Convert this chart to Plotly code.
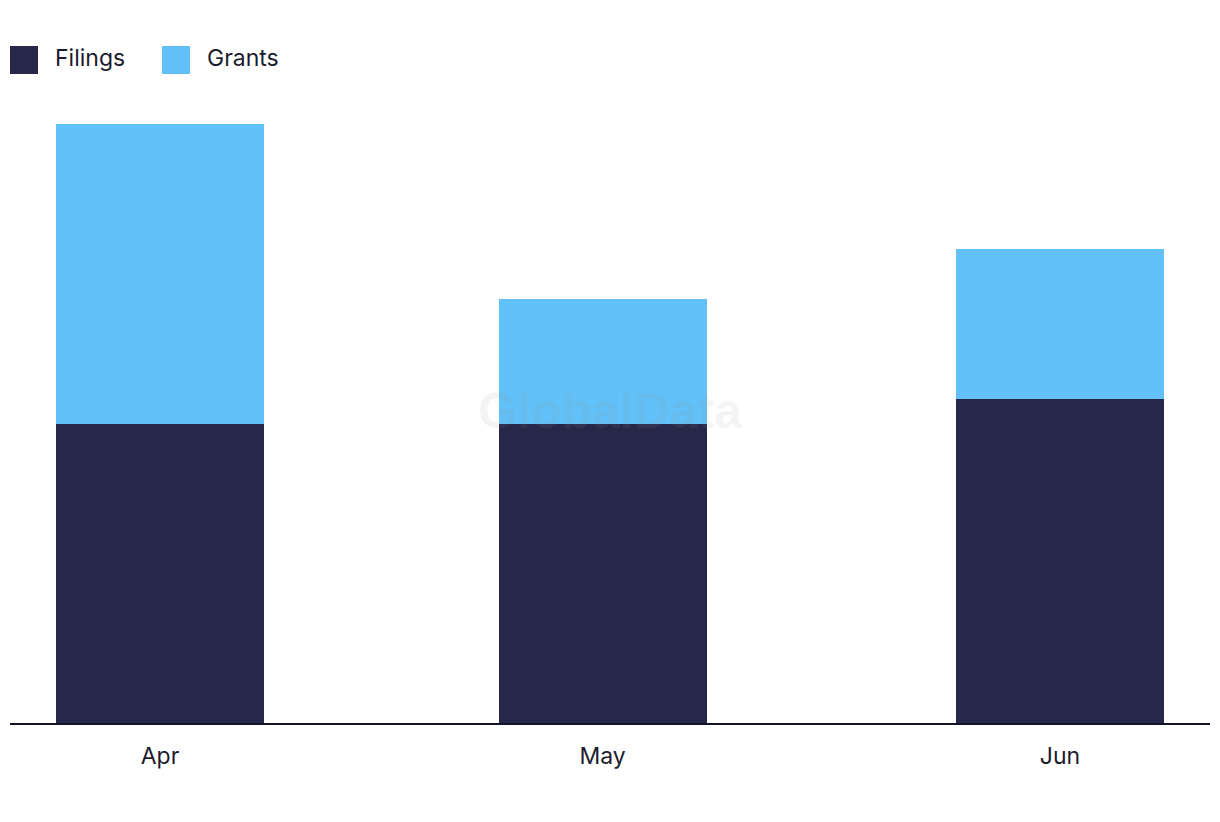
import plotly.graph_objects as go

months = ["2024-04-01", "2024-05-01", "2024-06-01"]
tick_labels = ["Apr", "May", "Jun"]
filings = [12, 12, 13]
grants = [12, 5, 6]

navy = "#272849"
sky = "#62c1f9"
text_color = "#1c1c2e"
font_family = "Inter, 'Open Sans', sans-serif"

bar_width_ms = 14.1 * 86400000

fig = go.Figure()
fig.add_trace(go.Bar(x=months, y=filings, name="Filings", marker_color=navy,
                     marker_line_width=0, width=bar_width_ms, showlegend=False))
fig.add_trace(go.Bar(x=months, y=grants, name="Grants", marker_color=sky,
                     marker_line_width=0, width=bar_width_ms, showlegend=False))

W, H = 1220, 822
ml, mr, mt, mb = 10, 10, 124, 99
pw, ph = W - ml - mr, H - mt - mb

def px_x(x):
    return (x - ml) / pw

def px_y(y):
    return (H - mb - y) / ph

shapes = []
annotations = []
legend_items = [("Filings", navy, 10, 53), ("Grants", sky, 162, 205)]
for name, col, sx, tx in legend_items:
    shapes.append(dict(type="rect", xref="paper", yref="paper",
                       x0=px_x(sx), x1=px_x(sx + 28), y0=px_y(74), y1=px_y(46),
                       fillcolor=col, line=dict(width=0)))
    annotations.append(dict(text=name, xref="paper", yref="paper",
                            x=px_x(tx), y=px_y(58), xanchor="left", yanchor="middle",
                            showarrow=False,
                            font=dict(size=23, color=text_color, family=font_family)))

annotations.append(dict(text="<b>GlobalData</b>", xref="paper", yref="paper",
                        x=px_x(610), y=px_y(411), xanchor="center", yanchor="middle",
                        showarrow=False,
                        font=dict(size=50, color="rgba(150,150,150,0.10)",
                                  family="'Liberation Sans', Arial, sans-serif")))

fig.update_layout(
    barmode="stack",
    width=W, height=H,
    margin=dict(l=ml, r=mr, t=mt, b=mb),
    plot_bgcolor="white", paper_bgcolor="white",
    font=dict(family=font_family, color=text_color, size=23),
    shapes=shapes,
    annotations=annotations,
    xaxis=dict(type="date", range=["2024-03-21 20:00", "2024-06-11 04:00"],
               tickvals=months, ticktext=tick_labels, ticks="",
               showline=True, linecolor="#141428", linewidth=2,
               showgrid=False, zeroline=False,
               tickfont=dict(size=23, color=text_color), ticklabelstandoff=11),
    yaxis=dict(range=[0, 24], visible=False, showgrid=False, zeroline=False),
)

fig.write_html("out.html")
